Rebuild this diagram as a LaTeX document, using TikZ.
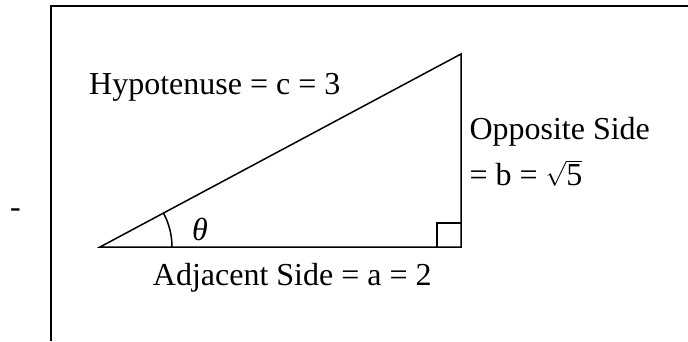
\documentclass[tikz,border=0pt]{standalone}
\usepackage{fontspec}
\setmainfont{Liberation Serif}
\usepackage{tikz}

\begin{document}
\begin{tikzpicture}[x=1pt, y=1pt,
    lbl/.style={anchor=base west, inner sep=0pt, font=\fontsize{32}{38}\selectfont},
    side/.style={line width=1.5pt, line join=miter}]
    \useasboundingbox (0,0) rectangle (688,341);
    \draw[line width=2pt] (51,0) |- (688,335.3);
    \coordinate (A) at (100,94);
    \coordinate (B) at (461,94);
    \coordinate (C) at (461,287);
    \draw[side] (A) -- (B) -- (C) -- cycle;
    \draw[side] (437,94) |- (461,118);
    \draw[side] ([shift={(0:72pt)}]A) arc[start angle=0, end angle=28.13, radius=72pt];
    \node[lbl] (dash) at (10,123.5) {-};
    \node[lbl] (theta) at (192,100.5) {\itshape θ};
    \node[lbl] (hyp) at (89,246.7) {Hypotenuse = c = 3};
    \node[lbl] (opp) at (469.3,202) {Opposite Side};
    \node[lbl] (oppval) at (469.3,156) {= b = \smash{$\sqrt{\hbox{5}}$}};
    \node[lbl] (adj) at (152.7,56) {Adjacent Side = a = 2};
\end{tikzpicture}
\end{document}
